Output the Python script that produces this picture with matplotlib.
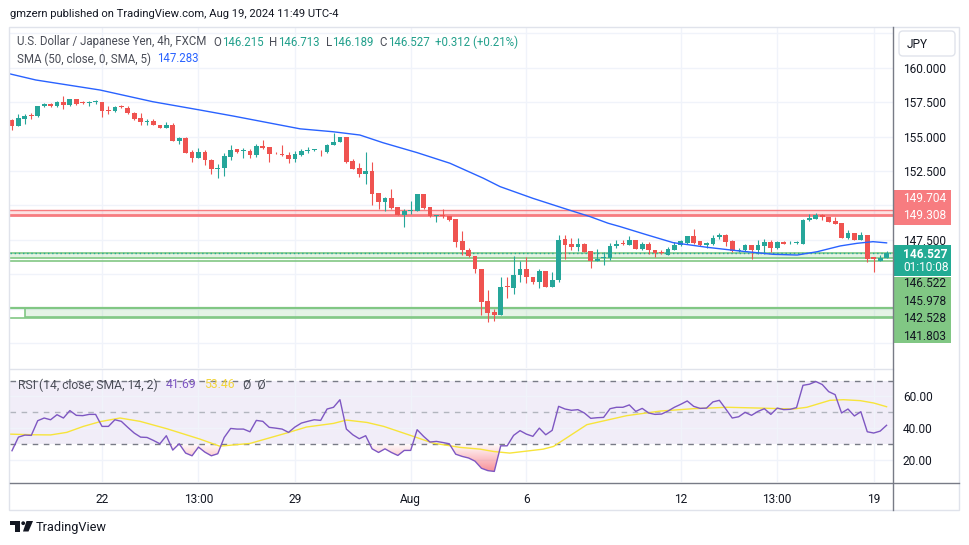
import numpy as np
import matplotlib
matplotlib.use('Agg')
import matplotlib.pyplot as plt
from matplotlib.patches import Rectangle, FancyBboxPatch, PathPatch, Polygon, Circle
from matplotlib.path import Path
from matplotlib.colors import LinearSegmentedColormap

plt.rcParams['font.family'] = ['Roboto', 'DejaVu Sans']

W, H = 970, 545

# ---------------- data ----------------
opens = [156.23, 155.74, 156.30, 156.55, 156.48, 157.21, 157.40, 157.21, 157.55, 157.28,
         157.77, 157.50, 157.45, 157.50, 157.55, 156.91, 156.84, 157.21, 157.11, 156.74,
         156.38, 156.06, 156.11, 155.87, 155.60, 155.87, 154.65, 154.89, 153.91, 153.48,
         153.91, 153.30, 152.62, 152.70, 153.55, 154.09, 153.94, 153.99, 153.67, 154.33,
         154.26, 153.84, 153.74, 153.67, 153.38, 153.67, 153.99, 154.01, 153.98, 153.90,
         154.37, 154.59, 154.95, 153.24, 152.73, 152.32, 152.51, 150.90, 150.27, 150.54,
         149.88, 149.32, 149.59, 149.59, 150.83, 149.88, 149.22, 149.29, 149.22, 149.02,
         147.39, 146.80, 146.32, 145.41, 143.07, 142.27, 142.07, 144.12, 143.98, 144.93,
         145.41, 144.83, 144.46, 145.27, 144.10, 144.56, 147.59, 147.17, 146.98, 147.17,
         146.66, 145.98, 146.17, 146.17, 147.02, 147.29, 147.15, 147.51, 146.83, 147.22,
         146.78, 146.61, 146.41, 146.80, 147.10, 147.29, 147.76, 147.39, 147.15, 147.17,
         147.71, 147.83, 147.39, 146.66, 146.73, 147.10, 146.78, 147.05, 147.34, 146.90,
         147.34, 147.24, 147.27, 147.22, 148.98, 149.02, 149.29, 149.17, 148.85, 148.73,
         147.63, 148.00, 147.46, 147.88, 146.24, 146.00, 146.215]
highs = [156.30, 156.67, 156.65, 156.72, 157.26, 157.48, 157.45, 157.62, 157.94, 157.77,
         157.77, 157.62, 157.60, 157.70, 157.55, 157.21, 157.26, 157.28, 157.21, 156.82,
         156.74, 156.30, 156.30, 155.87, 156.06, 155.96, 155.01, 154.99, 154.04, 154.16,
         154.04, 153.38, 153.01, 153.82, 154.38, 154.13, 154.18, 154.09, 154.48, 154.77,
         154.26, 153.91, 154.40, 153.89, 153.96, 154.11, 154.28, 154.11, 154.02, 154.46,
         155.24, 155.00, 154.95, 153.37, 153.07, 153.90, 153.17, 150.90, 150.63, 151.17,
         149.88, 149.71, 150.32, 150.83, 150.83, 149.88, 149.34, 149.71, 149.27, 149.02,
         148.12, 146.90, 146.32, 145.41, 143.88, 142.51, 144.83, 144.83, 146.32, 145.98,
         146.22, 144.83, 145.37, 145.27, 145.20, 147.83, 147.83, 147.66, 147.63, 147.27,
         146.66, 146.85, 146.61, 147.29, 147.51, 147.46, 147.78, 147.51, 147.34, 147.34,
         146.78, 146.73, 146.98, 147.34, 147.51, 147.76, 148.27, 147.39, 147.34, 147.83,
         148.00, 147.95, 147.46, 146.90, 147.17, 147.10, 147.51, 147.59, 147.46, 147.41,
         147.39, 147.41, 147.39, 149.05, 149.37, 149.46, 149.37, 149.17, 149.17, 148.73,
         148.20, 148.00, 148.07, 147.88, 146.24, 146.41, 146.713]
lows = [155.45, 155.74, 155.89, 156.26, 156.40, 157.16, 157.13, 157.18, 157.04, 157.26,
        157.33, 157.40, 157.26, 157.40, 156.40, 156.62, 156.79, 157.11, 156.67, 156.23,
        155.87, 155.87, 155.82, 155.60, 155.60, 154.65, 154.45, 153.84, 153.18, 153.48,
        152.91, 152.30, 152.01, 152.13, 153.33, 153.84, 153.48, 153.48, 153.55, 154.09,
        153.18, 153.77, 153.60, 153.11, 153.16, 153.60, 153.79, 153.96, 153.63, 153.85,
        154.37, 154.59, 153.12, 152.63, 152.07, 151.59, 150.02, 149.76, 149.63, 149.73,
        149.32, 148.41, 149.39, 149.59, 149.73, 149.17, 148.80, 149.10, 148.90, 146.98,
        146.37, 146.27, 145.07, 142.07, 141.54, 141.63, 142.02, 143.29, 143.54, 144.46,
        144.39, 144.27, 143.98, 144.05, 144.07, 144.46, 146.12, 146.73, 146.66, 146.61,
        145.44, 145.93, 145.68, 146.05, 146.93, 147.10, 147.10, 146.83, 146.78, 146.49,
        146.24, 146.49, 146.37, 146.78, 147.05, 147.22, 147.22, 147.05, 146.93, 147.15,
        147.59, 147.02, 146.61, 146.59, 146.66, 146.12, 146.49, 146.49, 146.61, 146.85,
        147.17, 147.17, 147.22, 147.17, 148.85, 149.02, 148.98, 148.80, 148.63, 147.63,
        147.59, 147.46, 147.46, 145.88, 145.20, 145.95, 146.189]
closes = [155.74, 156.38, 156.52, 156.50, 157.26, 157.40, 157.21, 157.55, 157.28, 157.77,
          157.40, 157.43, 157.50, 157.55, 156.84, 156.87, 157.18, 157.13, 156.70, 156.30,
          156.04, 156.11, 155.82, 155.60, 155.87, 154.65, 154.89, 153.84, 153.48, 153.89,
          153.28, 152.62, 152.74, 153.60, 154.04, 153.91, 153.99, 153.67, 154.33, 154.16,
          153.77, 153.79, 153.67, 153.38, 153.72, 153.99, 154.04, 154.06, 153.93, 154.39,
          154.63, 154.95, 153.17, 152.68, 152.32, 152.51, 150.85, 150.27, 150.56, 149.83,
          149.32, 149.63, 149.63, 150.83, 149.83, 149.22, 149.27, 149.20, 148.95, 147.34,
          146.76, 146.32, 145.37, 143.00, 142.22, 142.07, 144.10, 144.05, 144.95, 145.41,
          144.78, 144.46, 145.27, 144.10, 144.61, 147.51, 147.15, 146.98, 147.17, 146.61,
          145.95, 146.12, 146.22, 147.02, 147.22, 147.22, 147.46, 146.83, 147.17, 146.73,
          146.54, 146.54, 146.85, 147.10, 147.41, 147.76, 147.29, 147.10, 147.27, 147.66,
          147.88, 147.34, 146.66, 146.80, 147.10, 146.78, 147.10, 147.34, 146.90, 147.34,
          147.22, 147.29, 147.34, 148.98, 149.12, 149.29, 149.17, 148.80, 148.63, 147.63,
          148.00, 147.46, 147.88, 146.12, 146.12, 146.215, 146.527]

# SMA(50) line, read at vertices (candle index, value)
sma_idx = [-0.3, 3.7, 13.7, 21.9, 29.2, 34.4, 44.8, 49.9, 54.1, 57.7, 63.0, 68.1, 73.3,
           75.9, 81.0, 86.3, 89.9, 92.7, 94.6, 98.5, 102.8, 108.1, 113.2, 118.4, 122.1,
           125.2, 128.8, 131.4, 133.9, 136.0]
sma_val = [159.56, 159.12, 158.39, 157.54, 156.94, 156.50, 155.57, 155.36, 155.12, 154.56,
           153.84, 153.07, 151.98, 151.37, 150.52, 149.72, 149.19, 148.71, 148.46, 147.90,
           147.30, 146.96, 146.69, 146.45, 146.40, 146.64, 147.06, 147.25, 147.37, 147.283]

# RSI(14), one value per candle
rsi = [25.6, 34.2, 35.5, 35.3, 44.6, 46.3, 45.2, 48.4, 46.3, 51.0,
       48.0, 47.8, 48.6, 48.6, 41.0, 41.0, 45.2, 44.2, 40.4, 36.8,
       34.2, 34.0, 32.1, 30.0, 35.1, 26.0, 30.0, 24.1, 22.4, 27.9,
       24.7, 22.4, 23.7, 34.0, 39.7, 39.3, 39.3, 37.6, 44.8, 44.2,
       40.4, 39.9, 39.3, 37.2, 40.6, 43.1, 44.2, 45.2, 44.8, 52.0,
       53.1, 57.9, 39.3, 35.7, 33.2, 35.1, 26.8, 24.5, 26.8, 24.5,
       22.6, 25.8, 25.8, 38.9, 34.7, 31.1, 31.5, 30.8, 30.0, 23.4,
       22.0, 21.0, 19.0, 14.5, 13.0, 12.5, 28.7, 28.7, 35.3, 38.3,
       36.1, 34.7, 39.9, 35.7, 38.5, 53.7, 52.0, 51.2, 51.6, 49.5,
       46.1, 46.5, 46.7, 52.2, 53.1, 53.1, 54.6, 50.5, 52.4, 49.5,
       48.6, 48.8, 50.7, 53.1, 55.0, 57.1, 53.7, 52.4, 52.6, 56.5,
       57.5, 52.0, 46.3, 47.1, 49.9, 48.0, 50.5, 52.2, 48.6, 52.6,
       51.6, 51.8, 52.9, 67.0, 67.7, 69.4, 67.5, 63.0, 61.1, 49.5,
       52.0, 47.6, 50.3, 37.6, 36.8, 38.0, 41.69]

# RSI moving average, read at vertices
rsima_idx = [-0.3, 3.3, 6.0, 8.5, 11.1, 13.7, 16.8, 19.9, 24.1, 29.2, 32.3, 37.0, 42.7,
             45.8, 50.0, 52.0, 55.2, 57.8, 62.4, 65.5, 69.7, 72.8, 74.9, 77.4, 82.6, 84.2,
             89.4, 95.6, 100.8, 105.9, 111.2, 116.3, 121.5, 123.6, 127.2, 129.3, 131.9,
             134.0, 136.0]
rsima_val = [36.1, 35.7, 35.6, 37.2, 41.0, 44.0, 46.3, 44.2, 39.5, 33.0, 28.5, 30.2, 36.8,
             40.6, 42.9, 45.0, 43.5, 41.0, 34.7, 30.4, 27.7, 26.6, 25.1, 24.1, 26.6, 28.3,
             42.1, 47.8, 50.7, 52.2, 53.1, 52.6, 52.0, 53.1, 57.5, 57.9, 57.3, 55.8, 53.46]

# horizontal levels
red_zone = [149.704, 149.308]
green_upper = [146.522, 146.16, 145.978]
green_lower = [142.528, 141.89, 141.803]
lower_box_start = 2.0

tick_pos = [14, 29, 44, 62, 80, 104, 119, 134]
tick_labels = ['22', '13:00', '29', 'Aug', '6', '12', '13:00', '19']
price_ticks = [140.0, 142.5, 145.0, 147.5, 150.0, 152.5, 155.0, 157.5, 160.0, 162.5]
price_tick_shown = [False, False, False, True, False, True, True, True, True, False]
rsi_ticks = [20, 40, 60]

# ---------------- styling ----------------
UP = '#26A69A'
DN = '#EF5350'
GRID = '#F0F3FA'
TXT = '#131722'
GRAY = '#4A4D57'
REDL = '#F77C80'
GRNL = '#81C784'

fig = plt.figure(figsize=(W / 100, H / 100), dpi=100)
fig.patch.set_facecolor('white')


def add_ax(x0, y0, x1, y1):
    return fig.add_axes([x0 / W, 1 - y1 / H, (x1 - x0) / W, (y1 - y0) / H])


ax = add_ax(10, 27, 893, 368)
ar = add_ax(10, 370, 893, 482)
XMIN, XMAX = -0.31, 137.0

n = len(closes)
idx = np.arange(n)
o = np.array(opens); h = np.array(highs); l = np.array(lows); c = np.array(closes)
up = c >= o
cols = np.where(up, UP, DN)

for a in (ax, ar):
    for s in a.spines.values():
        s.set_visible(False)
    a.set_facecolor('white')
    a.set_axisbelow(True)

# ---- price pane ----
ax.set_xticks(tick_pos)
ax.set_yticks(price_ticks)
ax.grid(True, color=GRID, lw=1)
ax.tick_params(axis='x', length=0, labelbottom=False)
ax.yaxis.tick_right()
ax.tick_params(axis='y', length=0, pad=7.2, labelsize=8.6, labelcolor=TXT)
ax.set_yticklabels(['%.3f' % v if sh else '' for v, sh in zip(price_ticks, price_tick_shown)])

# zones
ax.axhspan(red_zone[1], red_zone[0], color=REDL, alpha=0.22, lw=0, zorder=1)
ax.axhline(red_zone[0], color=REDL, lw=1.0, zorder=2)
ax.axhline(red_zone[1], color=REDL, lw=2.0, zorder=2)

ax.axhspan(green_upper[1], green_upper[0], color=GRNL, alpha=0.22, lw=0, zorder=1)
ax.axhline(green_upper[0], color=GRNL, lw=1.2, zorder=2)
ax.axhline(green_upper[1], color=GRNL, lw=1.2, zorder=2)
ax.axhline(green_upper[2], color=GRNL, lw=1.2, zorder=2)

ax.axhline(green_lower[0], color=GRNL, lw=1.6, zorder=2)
ax.add_patch(Rectangle((lower_box_start, green_lower[1]), XMAX + 5 - lower_box_start,
                       green_lower[0] - green_lower[1], facecolor=(0.506, 0.78, 0.518, 0.2),
                       edgecolor=GRNL, lw=1.2, zorder=2))
ax.axhline(green_lower[2], color=GRNL, lw=1.2, zorder=2)

# candles
ax.vlines(idx, l, h, colors=cols, lw=0.8, zorder=4)
body_bottom = np.minimum(o, c)
body_h = np.maximum(np.abs(c - o), 0.06)
ax.bar(idx, body_h, bottom=body_bottom, width=0.74, color=cols, lw=0, zorder=5)

# SMA
ax.plot(sma_idx, sma_val, color='#2962FF', lw=1.0, zorder=6)

# last price line
ax.axhline(closes[-1], color='#22AB94', lw=1.0, ls=(0, (1, 2)), zorder=3)

ax.set_xlim(XMIN, XMAX)
ax.set_ylim(138.19, 162.97)

# ---- RSI pane ----
r = np.array(rsi)
ar.axhspan(30, 70, color='#7E57C2', alpha=0.1, lw=0, zorder=0)
ar.set_xticks(tick_pos)
ar.set_xticklabels(tick_labels)
ar.set_yticks(rsi_ticks)
ar.set_yticklabels(['%.2f' % v for v in rsi_ticks])
ar.grid(True, color=GRID, lw=1)
ar.yaxis.tick_right()
ar.tick_params(axis='y', length=0, pad=7.2, labelsize=8.6, labelcolor=TXT)
ar.tick_params(axis='x', length=0, pad=8.0, labelsize=8.6, labelcolor=TXT)
ar.axhline(70, color='#787B86', lw=1.0, ls=(0, (4, 4)), zorder=2)
ar.axhline(30, color='#787B86', lw=1.0, ls=(0, (4, 4)), zorder=2)
ar.axhline(50, color='#B2B5BE', lw=1.0, ls=(0, (4, 4)), zorder=2)

fb = ar.fill_between(idx, r, 30, where=r < 30, interpolate=True,
                     facecolor='none', edgecolor='none')
paths = fb.get_paths()
if len(paths):
    cpath = Path.make_compound_path(*paths)
    clip = PathPatch(cpath, transform=ar.transData, facecolor='none', edgecolor='none')
    ar.add_patch(clip)
    grad = np.linspace(0, 1, 256).reshape(-1, 1)
    cmap = LinearSegmentedColormap.from_list(
        'os', [(0.95, 0.21, 0.27, 0.62), (0.95, 0.21, 0.27, 0.0)])
    im = ar.imshow(grad, extent=[idx[0], idx[-1], 10, 30], origin='lower',
                   aspect='auto', cmap=cmap, zorder=1, interpolation='bilinear')
    im.set_clip_path(clip)

ar.plot(rsima_idx, rsima_val, color='#F7E43A', lw=1.0, zorder=3)
ar.plot(idx, r, color='#7E57C2', lw=1.0, zorder=4)
ar.set_xlim(XMIN, XMAX)
ar.set_ylim(5.8, 76.7)

# ---------------- overlay (frame, labels, legends) ----------------
ov = add_ax(0, 0, W, H)
ov.set_xlim(0, W)
ov.set_ylim(H, 0)
ov.axis('off')
ov.patch.set_visible(False)

FR = '#E0E3EB'
ov.add_patch(Rectangle((9.5, 27), 949.5, 483, fill=False, edgecolor=FR, lw=1.0))
ov.plot([10, 893], [369, 369], color=FR, lw=1.0)
ov.plot([893.5, 893.5], [27, 510], color='#787B86', lw=1.0)
ov.plot([10, 959], [482.5, 482.5], color='#787B86', lw=1.0)

# JPY box
ov.add_patch(FancyBboxPatch((899, 31), 56, 25, boxstyle='round,pad=0,rounding_size=4',
                            facecolor='white', edgecolor=FR, lw=1.0))
ov.text(907, 44.5, 'JPY', fontsize=8.6, color=TXT, va='center', ha='left')

# right label boxes
ov.add_patch(Rectangle((893.5, 190), 58, 34.5, facecolor=REDL, edgecolor='none'))
ov.text(903, 199, '%.3f' % red_zone[0], fontsize=8.6, color='white', va='center', ha='left')
ov.text(903, 215.7, '%.3f' % red_zone[1], fontsize=8.6, color='white', va='center', ha='left')

ov.add_patch(Rectangle((893.5, 245), 58, 31, facecolor='#22AB94', edgecolor='none'))
ov.text(903, 254, '%.3f' % closes[-1], fontsize=8.6, color='white', va='center', ha='left',
        fontweight='bold')
ov.text(903, 267.5, '01:10:08', fontsize=8.6, color='white', va='center', ha='left')

ov.add_patch(Rectangle((893.5, 276.5), 58, 66.5, facecolor=GRNL, edgecolor='none'))
green_labels = [green_upper[0], green_upper[2], green_lower[0], green_lower[2]]
for yy, v in zip([283.5, 301.5, 319, 336], green_labels):
    ov.text(903, yy, '%.3f' % v, fontsize=8.6, color=TXT, va='center', ha='left')

# header
ov.text(10, 14, 'gmzern published on TradingView.com, Aug 19, 2024 11:49 UTC-4',
        fontsize=8.1, color=TXT, va='center', ha='left')

renderer = fig.canvas.get_renderer()


def seq_text(parts, x0, y, fs):
    x = x0
    for s, gap, cc in parts:
        x += gap
        t = ov.text(x, y, s, fontsize=fs, color=cc, va='center', ha='left')
        bb = t.get_window_extent(renderer)
        x += bb.width


TEAL = '#22A08C'
chg = closes[-1] - closes[-2]
pct = chg / closes[-2] * 100
parts1 = [('U.S. Dollar / Japanese Yen, 4h, FXCM', 0, GRAY),
          ('O', 7, GRAY), ('%.3f' % opens[-1], 0.5, TEAL),
          ('H', 6, GRAY), ('%.3f' % highs[-1], 0.5, TEAL),
          ('L', 6, GRAY), ('%.3f' % lows[-1], 0.5, TEAL),
          ('C', 6, GRAY), ('%.3f' % closes[-1], 0.5, TEAL),
          ('%+.3f (%+.2f%%)' % (chg, pct), 6, TEAL)]
seq_text(parts1, 17, 42, 8.3)
seq_text([('SMA (50, close, 0, SMA, 5)', 0, GRAY), ('%.3f' % sma_val[-1], 6, '#2962FF')],
         17, 59, 8.3)
parts2 = [('RSI (14, close, SMA, 14, 2)', 0, GRAY), ('%.2f' % rsi[-1], 8, '#7E57C2'),
          ('%.2f' % rsima_val[-1], 8, '#F2D53C'), ('\u00d8  \u00d8', 8, GRAY)]
seq_text(parts2, 18, 385, 8.7)

# TradingView logo + text
ov.add_patch(Polygon([(10, 521), (20, 521), (20, 531.5), (15.5, 531.5), (15.5, 525), (10, 525)],
                     closed=True, facecolor=TXT, edgecolor='none'))
ov.add_patch(Circle((23.2, 523.2), 1.9, facecolor=TXT, edgecolor='none'))
ov.add_patch(Polygon([(26.5, 521), (33, 521), (28.5, 531.5), (23, 531.5)],
                     closed=True, facecolor=TXT, edgecolor='none'))
ov.text(36, 527, 'TradingView', fontsize=9.2, color=TXT, va='center', ha='left')

fig.savefig('out.png', dpi=100, facecolor='white')
